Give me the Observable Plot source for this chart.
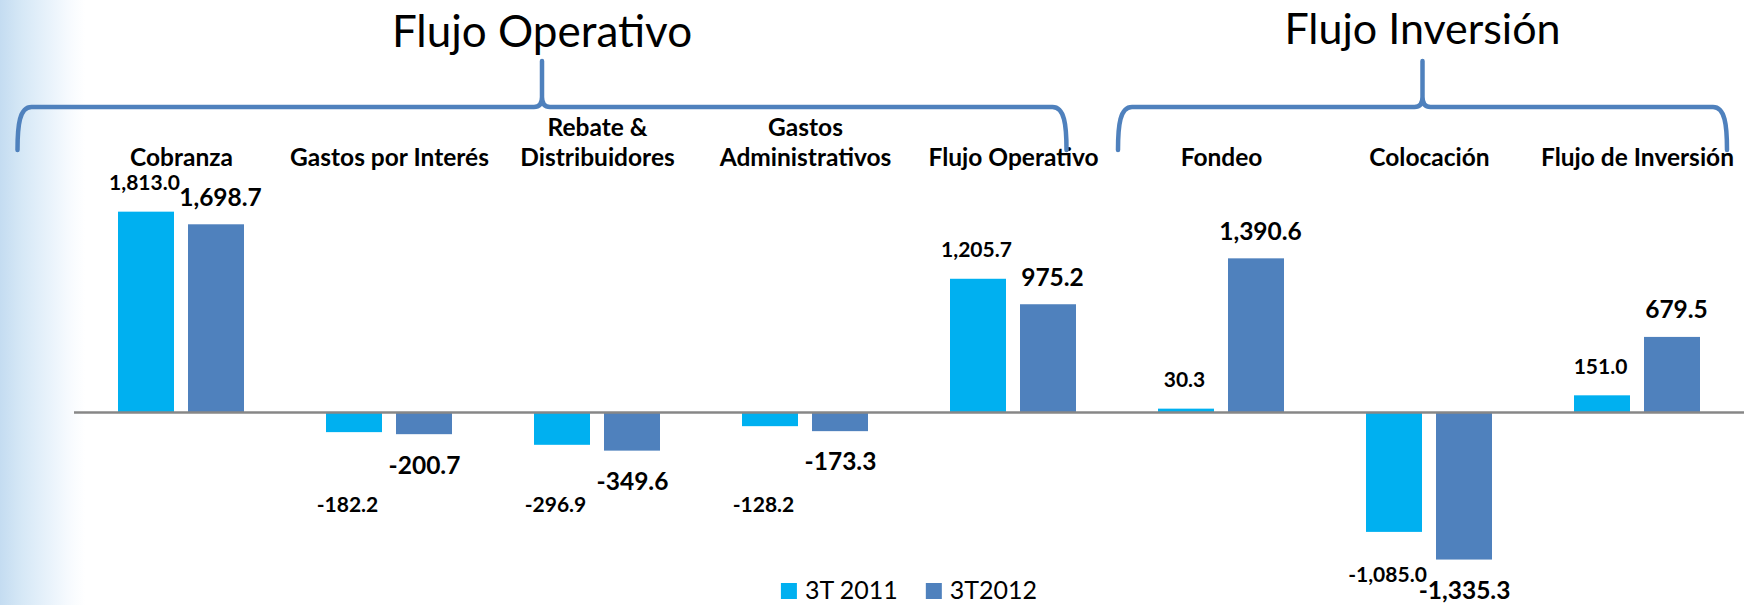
<!DOCTYPE html>
<html>
<head>
<meta charset="utf-8">
<script src="https://cdn.jsdelivr.net/npm/d3@7"></script>
<script src="https://cdn.jsdelivr.net/npm/@observablehq/plot@0.6"></script>
<style>
html, body { margin: 0; padding: 0; }
body {
  width: 1754px; height: 605px; overflow: hidden;
  background: linear-gradient(to right, #c4dcf1 0px, #d6e8f6 22px, #e8f2fb 48px, #f6fafe 68px, #ffffff 85px);
  font-family: Lato, sans-serif;
}
#chart svg { display: block; }
</style>
</head>
<body>
<div id="chart"></div>
<script>
// ---- data ----
const categories = ["Cobranza", "Gastos por Interés", "Rebate &\nDistribuidores", "Gastos\nAdministrativos",
                    "Flujo Operativo", "Fondeo", "Colocación", "Flujo de Inversión"];
const series = ["3T 2011", "3T2012"];
const values2011 = [1813.0, -182.2, -296.9, -128.2, 1205.7, 30.3, -1085.0, 151.0];
const values2012 = [1698.7, -200.7, -349.6, -173.3, 975.2, 1390.6, -1335.3, 679.5];
const groupTitles = ["Flujo Operativo", "Flujo Inversión"];
const groupFirst = ["Cobranza", "Fondeo"];
const groupLast = ["Flujo Operativo", "Flujo de Inversión"];

// ---- build ----
const d11 = categories.map((c, i) => ({cat: c, series: series[0], value: values2011[i]}));
const d12 = categories.map((c, i) => ({cat: c, series: series[1], value: values2012[i]}));
const fmt = d3.formatLocale({decimal: ".", thousands: ",", grouping: [3], currency: ["", ""], minus: "-"}).format(",.1f");
const pos = d => d.value >= 0, neg = d => d.value < 0;

const W = 1754, H = 605;
const chart = Plot.plot({
  width: W, height: H,
  marginLeft: 74, marginRight: 10, marginTop: 191, marginBottom: 27.25,
  style: {background: "transparent", fontFamily: "Lato, sans-serif", color: "black"},
  x: {domain: categories, paddingInner: 0.3964, paddingOuter: 0.1982, align: 0.5, axis: null},
  y: {domain: [-1500, 2000], axis: null},
  color: {domain: series, range: ["#00B0F0", "#4F81BD"]},
  marks: [
    Plot.barY(d11, {x: "cat", y: "value", fill: "series", insetRight: 70}),
    Plot.barY(d12, {x: "cat", y: "value", fill: "series", insetLeft: 70}),
    Plot.ruleY([0], {stroke: "#878787", strokeWidth: 2.5}),
    Plot.text(categories, {x: d => d, frameAnchor: "top", lineAnchor: "bottom", dy: -26,
      fontSize: 24.5, fontWeight: "bold", lineHeight: 1.22, fill: "black"}),
    // 3T 2011 labels (smaller)
    Plot.text(d11.filter(pos), {x: "cat", y: "value", text: d => fmt(d.value), dx: -37, dy: -29,
      lineAnchor: "middle", fontSize: 21, fontWeight: "bold", fill: "black"}),
    Plot.text(d11.filter(neg), {x: "cat", y: d => Math.min(d.value, -450), text: d => fmt(d.value), dx: -42, dy: 43,
      lineAnchor: "middle", fontSize: 21, fontWeight: "bold", fill: "black"}),
    // 3T2012 labels (larger)
    Plot.text(d12.filter(pos), {x: "cat", y: "value", text: d => fmt(d.value), dx: 39, dy: -27,
      lineAnchor: "middle", fontSize: 24.5, fontWeight: "bold", fill: "black"}),
    Plot.text(d12.filter(neg), {x: "cat", y: "value", text: d => fmt(d.value), dx: 35, dy: 31,
      lineAnchor: "middle", fontSize: 24.5, fontWeight: "bold", fill: "black"})
  ]
});
document.getElementById("chart").appendChild(chart);

// ---- group brackets & titles, positioned from the x scale ----
const xs = chart.scale("x");
const cx = c => xs.apply(c) + xs.bandwidth / 2;
const svg = d3.select(chart);
const yH = 107, yEnd = 150, yTip = 61;
const spans = [
  [cx(groupFirst[0]) - 163.5, cx(groupLast[0]) + 53.5],
  [cx(groupFirst[1]) - 103, cx(groupLast[1]) + 90]
];
const titleBaselines = [47, 44];
const titleSizes = [44, 43];
spans.forEach(([x0, x1], i) => {
  const xm = (x0 + x1) / 2;
  const p = `M${x0},${yEnd} C${x0},${yH + 18} ${x0 + 2},${yH} ${x0 + 14},${yH} L${xm - 8},${yH} Q${xm},${yH} ${xm},${yH - 10} L${xm},${yTip}`
          + ` M${xm},${yH - 10} Q${xm},${yH} ${xm + 8},${yH} L${x1 - 14},${yH} C${x1 - 2},${yH} ${x1},${yH + 18} ${x1},${yEnd}`;
  svg.append("path").attr("d", p).attr("fill", "none").attr("stroke", "#4F81BD")
    .attr("stroke-width", 4.5).attr("stroke-linejoin", "round").attr("stroke-linecap", "round");
  svg.append("text").attr("x", xm).attr("y", titleBaselines[i]).attr("text-anchor", "middle")
    .attr("font-family", "Lato, sans-serif").attr("font-size", titleSizes[i]).attr("fill", "black").text(groupTitles[i]);
});

// ---- legend ----
const col = chart.scale("color");
const lg = svg.append("g");
const items = series.map(s => {
  const g = lg.append("g");
  g.append("rect").attr("x", 0).attr("width", 16).attr("height", 16).attr("y", -16).attr("fill", col.apply(s));
  const t = g.append("text").attr("x", 24).attr("text-anchor", "start").attr("font-family", "Lato, sans-serif")
    .attr("font-size", 25).attr("fill", "black").text(s);
  return {g, w: 24 + t.node().getComputedTextLength()};
});
const gap = 28;
const total = items.reduce((a, b) => a + b.w, 0) + gap * (items.length - 1);
const xr = xs.range;
let lx = (xr[0] + xr[1]) / 2 - total / 2;
items.forEach(it => { it.g.attr("transform", `translate(${lx},599)`); lx += it.w + gap; });
</script>
</body>
</html>
